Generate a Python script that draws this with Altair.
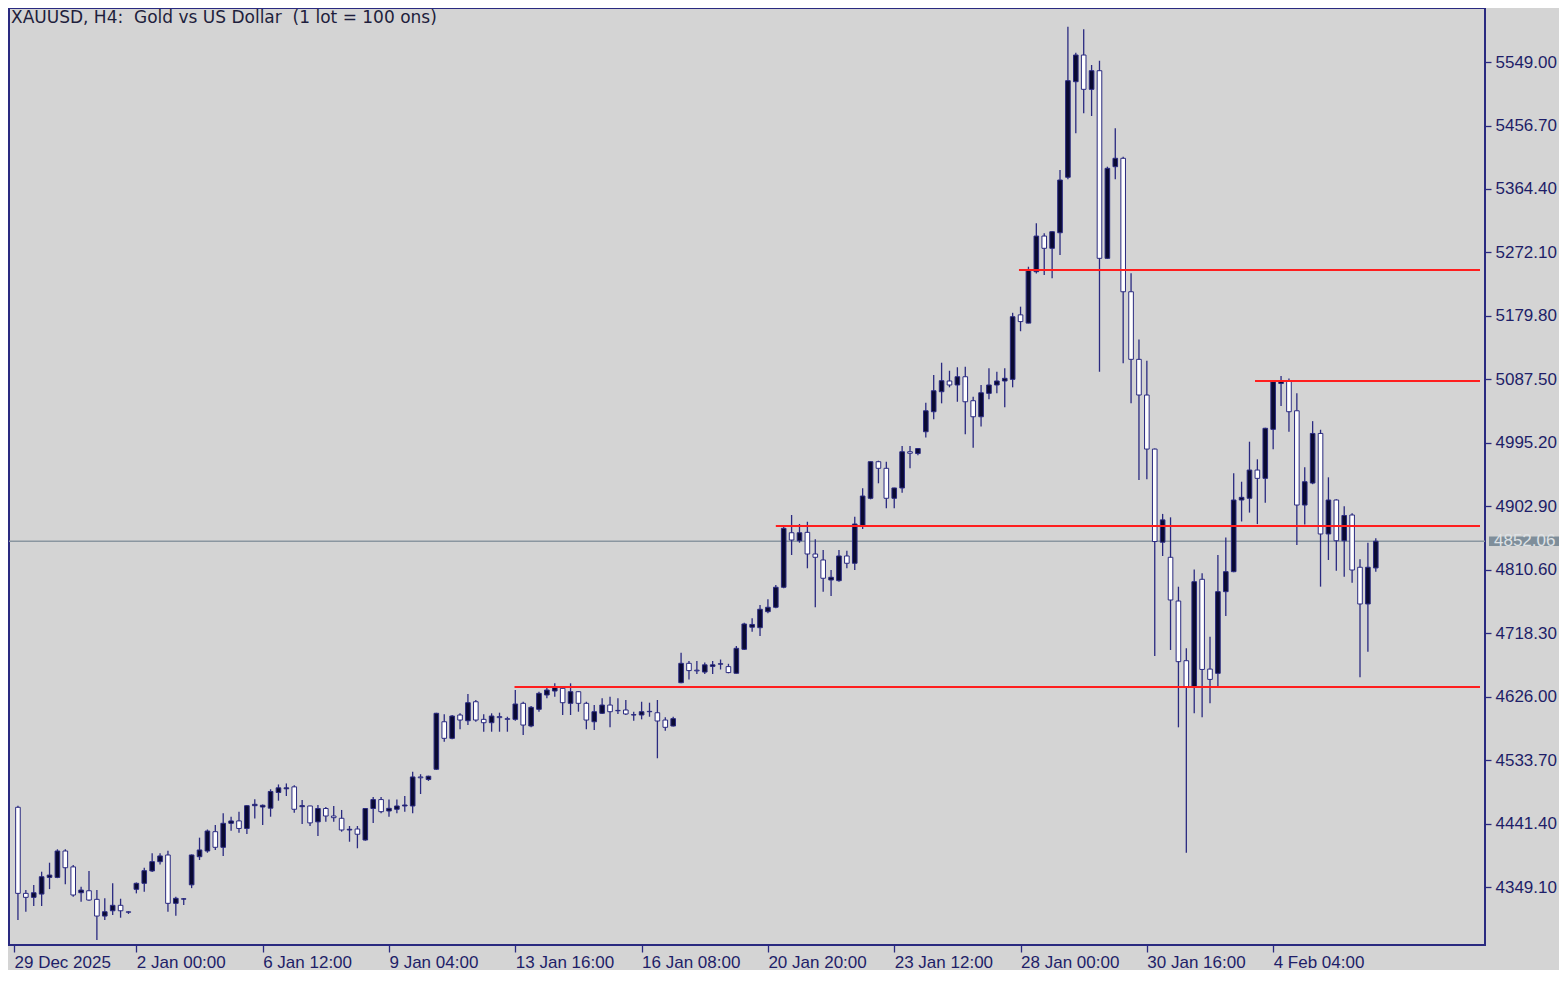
import altair as alt
import pandas as pd

# ---------------- data ----------------
OPEN = [4465.1, 4339.9, 4334.1, 4338.9, 4363.1, 4363.1, 4401.5, 4378.4, 4340.8, 4343.7,
        4331.2, 4306.9, 4314.6, 4322.5, 4313.0, 4345.8, 4354.5, 4372.5, 4386.0, 4395.7,
        4325.4, 4331.5, 4352.3, 4393.2, 4401.5, 4429.6, 4406.9, 4441.8, 4445.3, 4434.3,
        4467.4, 4465.5, 4463.8, 4486.6, 4492.0, 4494.8, 4466.0, 4467.0, 4443.9, 4463.3,
        4452.4, 4449.1, 4432.1, 4433.5, 4417.5, 4463.3, 4476.3, 4459.7, 4462.2, 4467.0,
        4467.0, 4509.2, 4505.5, 4520.4, 4589.5, 4565.4, 4599.3, 4591.0, 4618.6, 4593.0,
        4588.1, 4597.0, 4594.0, 4593.0, 4616.3, 4583.3, 4607.6, 4628.4, 4634.2, 4638.1,
        4616.3, 4633.2, 4616.3, 4589.5, 4601.8, 4613.8, 4606.0, 4606.6, 4599.3, 4599.3,
        4604.6, 4602.6, 4592.0, 4583.3, 4646.3, 4674.5, 4664.5, 4661.8, 4670.0, 4673.3,
        4669.7, 4660.0, 4694.9, 4727.0, 4726.3, 4749.6, 4756.0, 4785.1, 4864.4, 4852.8,
        4865.0, 4833.5, 4824.8, 4795.7, 4794.7, 4830.6, 4820.0, 4875.0, 4914.5, 4967.7,
        4958.1, 4914.5, 4929.5, 4982.2, 4979.6, 5011.3, 5040.4, 5069.5, 5085.1, 5079.3,
        5091.3, 5056.4, 5033.1, 5067.1, 5079.3, 5085.1, 5087.5, 5181.3, 5169.3, 5244.0,
        5295.9, 5278.1, 5300.7, 5381.4, 5520.4, 5559.2, 5509.3, 5536.4, 5263.5, 5396.8,
        5409.0, 5214.9, 5116.6, 5064.7, 4986.1, 4850.6, 4828.7, 4765.1, 4678.3, 4640.4,
        4796.7, 4666.1, 4659.9, 4778.7, 4807.8, 4912.0, 4914.5, 4955.6, 4943.5, 5014.8,
        5081.5, 5085.3, 5041.8, 4904.7, 4936.7, 5008.8, 4862.6, 4912.0, 4852.8, 4890.2,
        4814.2, 4760.8, 4813.2]
HIGH = [4467.4, 4344.7, 4352.0, 4371.4, 4384.5, 4404.0, 4404.0, 4381.2, 4349.5, 4372.5,
        4344.7, 4332.7, 4354.5, 4332.1, 4314.0, 4355.7, 4377.2, 4398.2, 4398.2, 4402.0,
        4335.0, 4333.0, 4396.5, 4420.9, 4432.8, 4439.3, 4456.4, 4451.4, 4458.7, 4468.0,
        4476.7, 4469.0, 4491.3, 4498.3, 4499.8, 4497.3, 4475.7, 4467.5, 4468.4, 4465.6,
        4467.0, 4461.2, 4437.9, 4437.9, 4464.1, 4480.1, 4480.1, 4476.3, 4476.3, 4481.5,
        4516.6, 4513.2, 4511.0, 4602.5, 4600.3, 4599.3, 4601.8, 4629.8, 4621.1, 4600.3,
        4601.8, 4602.7, 4596.8, 4635.6, 4618.6, 4612.4, 4633.2, 4639.6, 4645.4, 4640.5,
        4645.4, 4634.0, 4618.6, 4613.8, 4623.6, 4625.9, 4623.6, 4621.1, 4604.1, 4618.6,
        4617.2, 4621.1, 4596.0, 4596.8, 4689.9, 4677.9, 4677.9, 4675.7, 4677.9, 4680.0,
        4673.8, 4699.6, 4733.6, 4740.0, 4759.3, 4767.6, 4788.4, 4873.2, 4890.2, 4877.1,
        4880.4, 4854.8, 4839.3, 4810.2, 4839.3, 4838.3, 4887.7, 4929.0, 4968.0, 4969.2,
        4967.7, 4930.0, 4990.5, 4990.5, 4987.5, 5053.5, 5093.8, 5111.7, 5100.0, 5105.1,
        5106.0, 5062.2, 5079.3, 5103.6, 5098.6, 5103.6, 5184.3, 5193.2, 5251.3, 5314.4,
        5300.0, 5303.0, 5392.0, 5600.4, 5562.6, 5596.6, 5544.7, 5550.9, 5396.8, 5452.6,
        5411.3, 5241.7, 5145.5, 5114.6, 4987.0, 4891.8, 4886.8, 4785.9, 4696.4, 4811.1,
        4805.4, 4713.2, 4832.0, 4857.3, 4950.8, 4938.6, 4996.8, 4971.2, 5017.0, 5085.0,
        5092.3, 5088.9, 5067.1, 4959.6, 5026.7, 5014.2, 4945.0, 4913.0, 4902.9, 4892.7,
        4825.8, 4849.9, 4856.3]
LOW = [4301.1, 4313.2, 4321.5, 4321.5, 4346.1, 4362.0, 4353.1, 4335.0, 4327.7, 4329.0,
       4272.0, 4301.1, 4308.4, 4304.5, 4310.0, 4339.9, 4342.3, 4371.0, 4381.9, 4313.2,
       4307.4, 4322.9, 4347.5, 4388.4, 4399.0, 4403.0, 4394.3, 4431.0, 4428.1, 4426.2,
       4448.8, 4439.3, 4451.4, 4474.7, 4481.5, 4457.2, 4440.8, 4437.9, 4423.3, 4443.9,
       4443.9, 4429.6, 4415.0, 4405.5, 4416.5, 4442.4, 4456.4, 4451.4, 4456.4, 4458.7,
       4456.4, 4484.4, 4503.4, 4519.5, 4560.5, 4564.0, 4578.5, 4584.7, 4589.5, 4575.0,
       4575.0, 4575.0, 4575.0, 4591.0, 4570.2, 4581.4, 4604.1, 4623.6, 4625.9, 4599.3,
       4599.3, 4604.1, 4578.5, 4577.5, 4600.8, 4581.4, 4600.8, 4599.3, 4591.0, 4593.0,
       4596.8, 4536.4, 4576.5, 4582.5, 4645.4, 4650.8, 4658.9, 4658.9, 4658.9, 4665.5,
       4660.0, 4659.5, 4693.9, 4720.5, 4714.2, 4747.3, 4754.5, 4783.6, 4832.0, 4849.9,
       4812.7, 4756.0, 4778.7, 4772.4, 4793.2, 4812.7, 4810.2, 4870.0, 4913.0, 4936.3,
       4899.9, 4899.9, 4922.6, 4958.1, 4977.2, 5003.1, 5029.3, 5052.6, 5075.9, 5054.9,
       5007.6, 4988.1, 5018.8, 5058.4, 5067.1, 5046.8, 5075.9, 5157.5, 5169.0, 5241.6,
       5239.2, 5234.4, 5268.4, 5378.4, 5445.3, 5474.4, 5470.5, 5098.6, 5262.5, 5378.4,
       5110.8, 5052.6, 4941.1, 4942.1, 4685.2, 4830.6, 4693.9, 4581.4, 4399.0, 4601.8,
       4596.0, 4616.3, 4640.4, 4743.3, 4807.0, 4880.8, 4893.7, 4877.0, 4908.1, 4985.7,
       5048.9, 5011.3, 4846.6, 4876.4, 4935.0, 4786.0, 4824.8, 4809.2, 4800.5, 4791.8,
       4654.1, 4691.4, 4807.8]
CLOSE = [4339.9, 4334.1, 4340.8, 4364.1, 4366.5, 4401.5, 4377.2, 4337.5, 4344.7, 4330.2,
         4306.9, 4313.2, 4322.5, 4314.6, 4312.5, 4354.5, 4372.9, 4386.0, 4394.3, 4325.4,
         4332.7, 4332.0, 4395.7, 4403.0, 4430.6, 4406.9, 4441.8, 4445.2, 4434.3, 4467.4,
         4469.4, 4468.0, 4488.1, 4493.4, 4493.4, 4462.2, 4467.5, 4442.4, 4463.3, 4452.4,
         4450.0, 4432.1, 4433.1, 4425.9, 4463.3, 4476.3, 4458.7, 4463.6, 4467.0, 4468.4,
         4509.2, 4508.0, 4510.3, 4601.8, 4565.4, 4597.8, 4592.0, 4617.2, 4592.0, 4588.1,
         4597.8, 4595.5, 4593.0, 4615.3, 4584.7, 4610.5, 4630.8, 4635.6, 4640.7, 4617.2,
         4633.2, 4616.3, 4592.0, 4604.1, 4613.8, 4604.1, 4605.5, 4600.8, 4599.8, 4604.1,
         4604.1, 4590.6, 4581.4, 4594.0, 4674.5, 4663.9, 4663.5, 4672.3, 4672.3, 4673.8,
         4661.0, 4696.3, 4731.7, 4731.0, 4753.1, 4756.0, 4785.1, 4870.8, 4853.8, 4864.4,
         4833.5, 4828.7, 4798.2, 4799.6, 4830.6, 4820.0, 4877.1, 4917.8, 4967.7, 4958.1,
         4914.5, 4929.5, 4982.2, 4980.0, 4986.9, 5041.8, 5070.9, 5085.5, 5079.3, 5091.3,
         5054.9, 5033.1, 5068.0, 5079.3, 5085.1, 5089.0, 5178.6, 5171.5, 5246.5, 5295.9,
         5278.1, 5302.2, 5377.4, 5521.9, 5559.2, 5509.3, 5536.4, 5263.5, 5394.4, 5409.0,
         5214.9, 5116.6, 5064.7, 4986.1, 4851.6, 4883.1, 4766.6, 4676.9, 4640.4, 4793.2,
         4665.6, 4651.1, 4778.7, 4807.8, 4912.0, 4915.9, 4955.6, 4943.5, 5016.3, 5084.2,
         5085.3, 5040.4, 4904.7, 4938.6, 5008.8, 4862.6, 4912.0, 4852.8, 4889.5, 4810.2,
         4760.8, 4814.2, 4852.06]
FIRST_BAR = 1  # bar 0 sits hidden under the left frame

X_LABELS = ["29 Dec 2025", "2 Jan 00:00", "6 Jan 12:00", "9 Jan 04:00", "13 Jan 16:00",
            "16 Jan 08:00", "20 Jan 20:00", "23 Jan 12:00", "28 Jan 00:00",
            "30 Jan 16:00", "4 Feb 04:00"]
BARS_PER_LABEL = 16
Y_TICKS = [4349.10, 4441.40, 4533.70, 4626.00, 4718.30, 4810.60, 4902.90,
           4995.20, 5087.50, 5179.80, 5272.10, 5364.40, 5456.70, 5549.00]

LEVELS = [5246.5, 5085.1, 4874.2, 4640.0]
LEVEL_START = [127.8, 157.7, 97.0, 63.9]
BID = 4852.06
TITLE = "XAUUSD, H4:\u00a0 Gold vs US Dollar\u00a0 (1 lot = 100 ons)"

X_DOMAIN = [0.5, 186.2]
Y_DOMAIN = [4264.8, 5627.6]

# ---------------- styling ----------------
W, H = 1476, 937
BG = "#d4d4d4"
NAVY = "#2a2a80"
DARK = "#0a0a32"
TXT = "#1e1e68"
RED = "#ff1e1e"
GRAY = "#8a96a0"
TAG = "#7f8e9a"
FONT = "Liberation Sans"
FS = 17

n = len(OPEN)
df = pd.DataFrame({
    "i": [FIRST_BAR + k for k in range(n)],
    "o": OPEN, "h": HIGH, "l": LOW, "c": CLOSE,
})

label_arr = "[" + ",".join("'" + s + "'" for s in X_LABELS) + "]"
x_vals = [max(X_DOMAIN[0], k * BARS_PER_LABEL) for k in range(len(X_LABELS))]

xscale = alt.Scale(domain=X_DOMAIN, nice=False, zero=False)
yscale = alt.Scale(domain=Y_DOMAIN, nice=False, zero=False)

x_axis = alt.Axis(values=x_vals, labelExpr=label_arr + "[round(datum.value/%d)]" % BARS_PER_LABEL,
                  title=None, grid=False, domain=False, tickSize=7, tickColor=NAVY,
                  tickWidth=1.3, labelAlign="left", labelPadding=2, labelFontSize=FS,
                  labelFont=FONT, labelColor=TXT, labelFlush=False, labelOverlap=False)
y_axis = alt.Axis(orient="right", values=Y_TICKS, format=".2f", title=None, grid=False,
                  domain=False, tickSize=6, tickColor=NAVY, tickWidth=1.3, labelPadding=4,
                  labelFontSize=FS, labelFont=FONT, labelColor=TXT, labelOverlap=False,
                  labelFlush=False)


def X(field):
    return alt.X(field, scale=xscale, axis=x_axis)


def Y(field):
    return alt.Y(field, scale=yscale, axis=y_axis)


base = alt.Chart(df)

wicks = base.mark_rule(color=NAVY, strokeWidth=1.3).encode(
    x=X("i:Q"), y=Y("l:Q"), y2="h:Q",
)

bodies = base.mark_bar(size=4.6, stroke=NAVY, strokeWidth=1).encode(
    x=X("i:Q"), y=Y("o:Q"), y2="c:Q",
    fill=alt.condition("datum.c >= datum.o", alt.value(DARK), alt.value("#ffffff")),
)

bid_df = pd.DataFrame({"p": [BID], "top": [BID + 7.0], "bot": [BID - 7.0],
                       "lab": ["%.2f" % BID]})

bid_line = alt.Chart(bid_df).mark_rule(color=GRAY, strokeWidth=1.6).encode(y=Y("p:Q"))

lv_df = pd.DataFrame({"lv": LEVELS, "s": LEVEL_START, "e": [X_DOMAIN[1]] * len(LEVELS)})
levels = alt.Chart(lv_df).mark_rule(color=RED, strokeWidth=2).encode(
    x=X("s:Q"), x2="e:Q", y=Y("lv:Q"),
)

bid_box = alt.Chart(bid_df).mark_rect(color=TAG).encode(
    x=alt.value(W + 4), x2=alt.value(W + 74),
    y=Y("top:Q"), y2="bot:Q",
)
bid_text = alt.Chart(bid_df).mark_text(align="left", baseline="middle", color="#dfe3e6",
                                       fontSize=FS, font=FONT).encode(
    x=alt.value(W + 9), y=Y("p:Q"), text="lab:N",
)

title_df = pd.DataFrame({"t": [TITLE]})
title = alt.Chart(title_df).mark_text(align="left", baseline="middle", color="#1e1e3c",
                                      fontSize=17, font="DejaVu Sans").encode(
    x=alt.value(2), y=alt.value(10), text="t:N"
)

chart = alt.layer(bid_line, wicks, bodies, levels, bid_box, bid_text, title).properties(
    width=W, height=H, background=BG, padding=0
).configure_view(
    stroke=NAVY, strokeWidth=2, fill=BG
)

chart.save("out.html", embed_options={"renderer": "svg", "actions": False})
